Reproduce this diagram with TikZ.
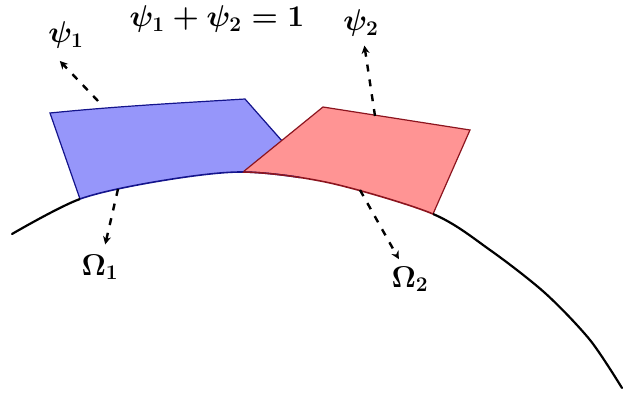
\documentclass[tikz,border=0pt]{standalone}
\usetikzlibrary{arrows.meta}
\definecolor{bluefill}{RGB}{150,150,250}
\definecolor{redfill}{RGB}{255,148,148}
\definecolor{blueedge}{RGB}{20,20,140}
\definecolor{rededge}{RGB}{140,20,30}
\begin{document}
\begin{tikzpicture}[x=1pt,y=-1pt,
  lbl/.style={inner sep=0pt,font=\fontsize{20.74}{24}\selectfont\boldmath,scale=1.45,transform shape},
  ptr/.style={line width=2.4pt,dash pattern=on 7pt off 8pt,-{Stealth[length=8pt,width=8pt]}},
  manifold/.style={line width=2.2pt,line cap=round},
  bluepatch/.style={fill=bluefill},
  redpatch/.style={fill=redfill}]
\useasboundingbox (0,0) rectangle (624,403);
\def\curvepts{(12,234) (80,199) (160,181) (243,172) (330,183) (433,214) (490,250) (545,293) (590,340) (622,388)}
% patches clipped to region above the curve
\begin{scope}
  \clip plot[smooth] coordinates {\curvepts} -- (624,403) -- (624,0) -- (0,0) -- (0,234) -- cycle;
  \fill[bluepatch] (50,113) .. controls (120,106) and (180,103) .. (245,99) -- (300,160) -- (300,225) -- (86,216) -- (80,199) -- cycle;
  \draw[line width=1.2pt,blueedge] (80,199) -- (50,113) .. controls (120,106) and (180,103) .. (245,99) -- (290,150);
  \fill[redpatch] (323,107) -- (470,130) -- (433,214) -- (425,240) -- (225,190) -- (243,172) -- cycle;
  \draw[line width=1.2pt,rededge] (243,172) -- (323,107) -- (470,130) -- (433,214);
\end{scope}
\begin{scope}
  \clip (50,113) -- (245,99) -- (300,160) -- (300,225) -- (86,216) -- (80,199) -- cycle;
  \draw[line width=1.6pt,blueedge] plot[smooth] coordinates {\curvepts};
\end{scope}
\begin{scope}
  \clip (323,107) -- (470,130) -- (433,214) -- (425,240) -- (225,190) -- (243,172) -- cycle;
  \draw[line width=1.6pt,rededge] plot[smooth] coordinates {\curvepts};
\end{scope}
\begin{scope}
  \clip (0,0) -- (80,0) -- (80,403) -- (0,403) -- cycle;
  \draw[manifold] plot[smooth] coordinates {\curvepts};
\end{scope}
\begin{scope}
  \clip (433,0) -- (624,0) -- (624,403) -- (433,403) -- cycle;
  \draw[manifold] plot[smooth] coordinates {\curvepts};
\end{scope}
% labels
\node[lbl] (sum) at (217,19) {$\psi_1+\psi_2=1$};
\node[lbl] (psi1) at (66,35) {$\psi_1$};
\node[lbl] (psi2) at (361,23) {$\psi_2$};
\node[lbl] (om1) at (100,267) {$\Omega_1$};
\node[lbl] (om2) at (410,279) {$\Omega_2$};
% anchor points on patches and curve
\coordinate (p1) at (98,101);
\coordinate (p2) at (375,116);
\coordinate (o1) at (118,189);
\coordinate (o2) at (360,190);
\draw[ptr,shorten >=17pt] (p1) -- (psi1.south west);
\draw[ptr,shorten >=9pt] (p2) -- (psi2);
\draw[ptr,shorten >=10pt] (o1) -- (om1);
\draw[ptr,shorten >=8pt] (o2) -- (om2);
\end{tikzpicture}
\end{document}
